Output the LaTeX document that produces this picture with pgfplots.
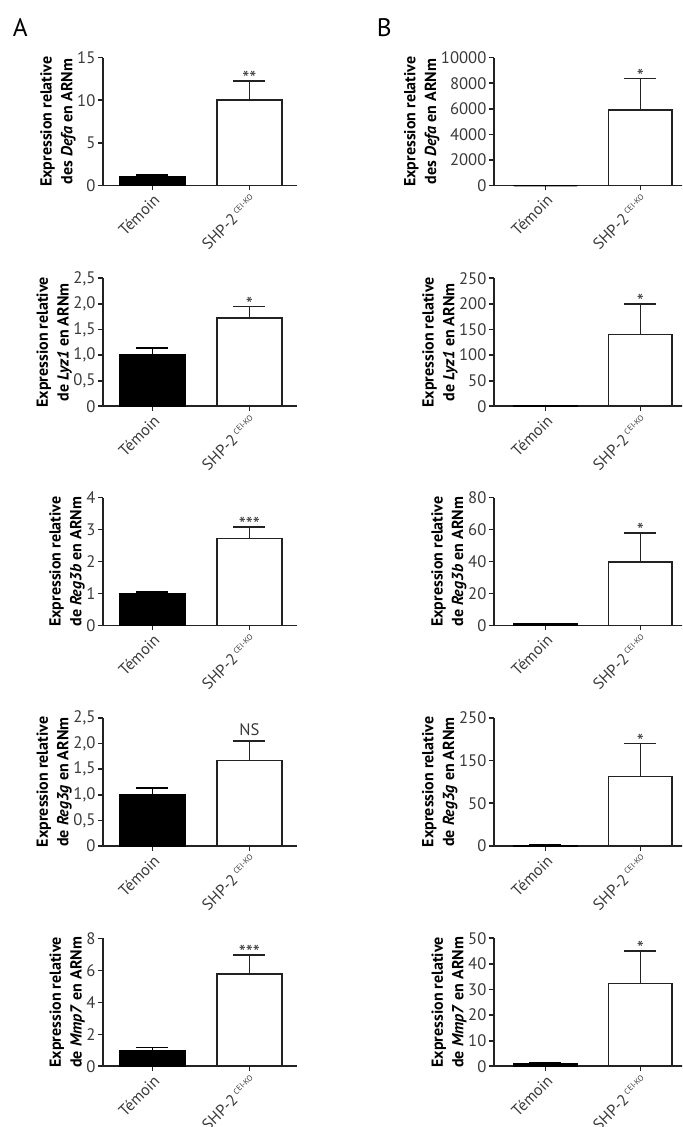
\documentclass[border=0pt]{standalone}
\usepackage{fontspec}
\setmainfont{PT Sans}
\usepackage{pgfplots}
\pgfplotsset{compat=1.18}
\definecolor{axcol}{HTML}{222222}
\definecolor{labcol}{HTML}{3A3A3A}
\newcommand{\shp}{SHP-2\,\raisebox{0.75ex}{\fontsize{6}{6}\selectfont CEI-KO}}
\tikzset{sig/.style={anchor=base, yshift=-3.5pt, text=labcol, font=\fontsize{15}{16}\selectfont, inner sep=0pt},
  ns/.style={anchor=base, yshift=4.5pt, text=labcol, font=\fontsize{12.5}{14}\selectfont, inner sep=0pt}}
\pgfplotsset{
  panel/.style={
    scale only axis, width=145.5pt, height=96pt,
    anchor=south west,
    axis x line*=bottom, axis y line*=left,
    axis line style={line width=1.25pt, color=axcol},
    ymin=0,
    scaled y ticks=false,
    xtick={1,2}, xticklabels={Témoin,\shp},
    x tick label style={rotate=45, anchor=north east, inner sep=1.5pt, font=\fontsize{12}{14}\selectfont, text=labcol},
    y tick label style={font=\fontsize{12.5}{14}\selectfont, text=labcol, inner sep=2pt},
    tick style={line width=1.25pt, color=axcol},
    major tick length=3.5pt,
    tick align=outside,
    ylabel style={font=\fontsize{12}{15.5}\selectfont\bfseries, align=center, inner sep=0pt},
    ylabel shift=-1pt,
    ybar, bar width=0.67,
    every axis plot/.append style={bar shift=0pt},
    clip=false,
  },
  leftcol/.style={panel, xmin=0.49, xmax=2.49},
  rightcol/.style={panel, xmin=0.46, xmax=2.5},
  tem/.style={fill=black, draw=black, line width=1.25pt,
    error bars/.cd, y dir=plus, y explicit,
    error bar style={line width=1.25pt, black},
    error mark options={rotate=90, mark size=12pt, line width=1.25pt, black}},
  ko/.style={fill=white, draw=axcol, line width=1.25pt,
    error bars/.cd, y dir=plus, y explicit,
    error bar style={line width=1.25pt, axcol},
    error mark options={rotate=90, mark size=12pt, line width=1.25pt, axcol}},
}
\begin{document}
\begin{tikzpicture}
\useasboundingbox (0,0) rectangle (511.5pt,845.25pt);
\clip (0,0) rectangle (511.5pt,845.25pt);
\node[anchor=base west, font=\fontsize{19}{22}\selectfont, inner sep=0pt] at (9.5pt,817.5pt) {A};
\node[anchor=base west, font=\fontsize{19}{22}\selectfont, inner sep=0pt] at (282.5pt,817.5pt) {B};

% ---------- Column A ----------
\begin{axis}[leftcol, at={(77.25pt,706pt)}, ymax=15, ytick={0,5,10,15}, yticklabels={0,5,10,15},
  ylabel={Expression relative\\des \textit{Defa} en ARNm}]
\addplot[tem] coordinates {(1,1.0) +- (0,0.28)};
\addplot[ko] coordinates {(2,10.0) +- (0,2.27)};
\node[sig] at (axis cs:2,12.27) {**};
\end{axis}

\begin{axis}[leftcol, at={(77.25pt,540.5pt)}, ymax=2.5, ytick={0,0.5,1,1.5,2,2.5}, yticklabels={0,{0,5},{1,0},{1,5},{2,0},{2,5}},
  ylabel={Expression relative\\de \textit{Lyz1} en ARNm}]
\addplot[tem] coordinates {(1,1.0) +- (0,0.14)};
\addplot[ko] coordinates {(2,1.73) +- (0,0.22)};
\node[sig] at (axis cs:2,1.95) {*};
\end{axis}

\begin{axis}[leftcol, at={(77.25pt,376pt)}, ymax=4, ytick={0,1,2,3,4}, yticklabels={0,1,2,3,4},
  ylabel={Expression relative\\de \textit{Reg3b} en ARNm}]
\addplot[tem] coordinates {(1,1.0) +- (0,0.06)};
\addplot[ko] coordinates {(2,2.72) +- (0,0.36)};
\node[sig] at (axis cs:2,3.08) {***};
\end{axis}

\begin{axis}[leftcol, at={(77.25pt,210.75pt)}, ymax=2.5, ytick={0,0.5,1,1.5,2,2.5}, yticklabels={0,{0,5},{1,0},{1,5},{2,0},{2,5}},
  ylabel={Expression relative\\de \textit{Reg3g} en ARNm}]
\addplot[tem] coordinates {(1,1.0) +- (0,0.13)};
\addplot[ko] coordinates {(2,1.67) +- (0,0.38)};
\node[ns] at (axis cs:2,2.05) {NS};
\end{axis}

\begin{axis}[leftcol, at={(77.25pt,45.5pt)}, ymax=8, ytick={0,2,4,6,8}, yticklabels={0,2,4,6,8},
  ylabel={Expression relative\\de \textit{Mmp7} en ARNm}]
\addplot[tem] coordinates {(1,1.0) +- (0,0.17)};
\addplot[ko] coordinates {(2,5.78) +- (0,1.17)};
\node[sig] at (axis cs:2,6.95) {***};
\end{axis}

% ---------- Column B ----------
\begin{axis}[rightcol, at={(370.5pt,706pt)}, ymax=10000, ytick={0,2000,4000,6000,8000,10000}, yticklabels={0,2000,4000,6000,8000,10000},
  ylabel={Expression relative\\des \textit{Defa} en ARNm}]
\addplot[tem] coordinates {(1,1.0) +- (0,0.3)};
\addplot[ko] coordinates {(2,5900) +- (0,2480)};
\node[sig] at (axis cs:2,8380) {*};
\end{axis}

\begin{axis}[rightcol, at={(370.5pt,540.5pt)}, ymax=250, ytick={0,50,100,150,200,250}, yticklabels={0,50,100,150,200,250},
  ylabel={Expression relative\\de \textit{Lyz1} en ARNm}]
\addplot[tem] coordinates {(1,1.0) +- (0,0.3)};
\addplot[ko] coordinates {(2,140) +- (0,60)};
\node[sig] at (axis cs:2,200) {*};
\end{axis}

\begin{axis}[rightcol, at={(370.5pt,376pt)}, ymax=80, ytick={0,20,40,60,80}, yticklabels={0,20,40,60,80},
  ylabel={Expression relative\\de \textit{Reg3b} en ARNm}]
\addplot[tem] coordinates {(1,1.0) +- (0,0.3)};
\addplot[ko] coordinates {(2,39.6) +- (0,18.2)};
\node[sig] at (axis cs:2,57.8) {*};
\end{axis}

\begin{axis}[rightcol, at={(370.5pt,210.75pt)}, ymax=250, ytick={0,83.333,166.667,250}, yticklabels={0,50,150,250},
  ylabel={Expression relative\\de \textit{Reg3g} en ARNm}]
\addplot[tem] coordinates {(1,1.0) +- (0,0.3)};
\addplot[ko] coordinates {(2,136) +- (0,64)};
\node[sig] at (axis cs:2,200) {*};
\end{axis}

\begin{axis}[rightcol, at={(370.5pt,45.5pt)}, ymax=50, ytick={0,10,20,30,40,50}, yticklabels={0,10,20,30,40,50},
  ylabel={Expression relative\\de \textit{Mmp7} en ARNm}]
\addplot[tem] coordinates {(1,1.0) +- (0,0.3)};
\addplot[ko] coordinates {(2,32.4) +- (0,12.65)};
\node[sig] at (axis cs:2,45.05) {*};
\end{axis}
\end{tikzpicture}
\end{document}
